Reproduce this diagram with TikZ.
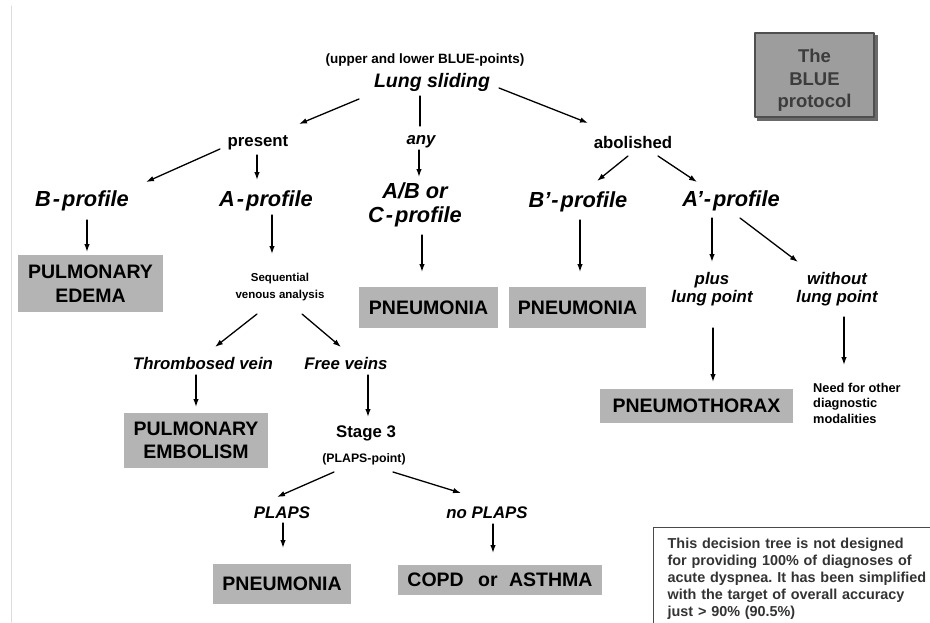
\documentclass[tikz,border=0pt]{standalone}
\usepackage{fontspec}
\setmainfont{Liberation Sans}
\usetikzlibrary{arrows.meta,calc,positioning}
\definecolor{DxGray}{HTML}{B4B4B4}
\definecolor{BlueFill}{HTML}{9D9D9D}
\definecolor{BlueEdge}{HTML}{4F4F4F}
\definecolor{BlueShadow}{HTML}{6A6A6A}
\definecolor{BlueText}{HTML}{3C3C3C}
\definecolor{NoteText}{HTML}{333333}
\definecolor{NoteEdge}{HTML}{4A4A4A}
\definecolor{MarginGray}{HTML}{DCDCDC}
\frenchspacing

\begin{document}
\begin{tikzpicture}[x=1pt,y=-1pt, line cap=round, line join=round,
  arr/.style={-{Latex[length=8pt,width=5.5pt]}, line width=1.3pt},
  dx/.style={fill=DxGray, inner sep=0pt, align=center, font=\bfseries\fontsize{19.5}{23.5}\selectfont},
  prof/.style={inner sep=0pt, align=center, font=\bfseries\itshape\fontsize{21.8}{24}\selectfont},
  word/.style={inner sep=0pt, align=center, font=\bfseries\fontsize{16.8}{18}\selectfont},
  iword/.style={inner sep=0pt, align=center, font=\bfseries\itshape\fontsize{16.8}{18.3}\selectfont},
  small/.style={inner sep=0pt, align=center, font=\bfseries\fontsize{11.5}{17}\selectfont}]

\useasboundingbox (0,0) rectangle (930,622);
\fill[white] (0,0) rectangle (930,622);

% faint margin line
\draw[MarginGray, line width=1pt] (11,6) -- (11,622);

% top
\node[word, font=\bfseries\fontsize{13.5}{16}\selectfont] (upper) at (425,60) {(upper and lower BLUE-points)};
\node[prof, font=\bfseries\itshape\fontsize{19.5}{22}\selectfont] (lung) at (432,82) {Lung sliding};

% title box
\fill[BlueShadow] (757,35) rectangle (878,121);
\node[fill=BlueFill, draw=BlueEdge, line width=2.4pt, minimum width=119pt, minimum height=84pt, inner sep=0pt] (blue) at (814.5,75) {};
\node[font=\bfseries\fontsize{18.5}{22.5}\selectfont, text=BlueText, align=center, inner sep=0pt] (bluetxt) at ($(blue)+(0,5.5)$) {The\\BLUE\\protocol};

% first branches
\node[word] (present) at (258,143) {present};
\node[iword] (any) at (421,142) {any};
\node[word] (abol) at (633,142) {abolished};

\draw[arr] ($(lung)+(-73,17)$) -- ($(present)+(41,-19)$);
\draw[line width=1.3pt] ($(lung)+(-12,14)$) -- ($(any)+(-1,-16)$);
\draw[arr] ($(lung)+(67,6)$) -- ($(abol)+(-45,-19)$);

% profiles
\node[prof] (bprof) at (82,201) {B\kern2pt-\kern2pt profile};
\node[prof] (aprof) at (266,201) {A\kern2pt-\kern2pt profile};
\node[prof] (ab) at (415,205) {A/B or\\C\kern2pt-\kern2pt profile};
\node[prof] (bpp) at (578,202) {B'\kern1pt-\kern2pt profile};
\node[prof] (app) at (731,201) {A'\kern1pt-\kern2pt profile};

\draw[arr] ($(present)+(-38,6)$) -- ($(bprof)+(64,-19)$);
\draw[arr] ($(present)+(-1,12)$) -- ($(aprof)+(-9,-21)$);
\draw[arr] ($(any)+(-2,8)$) -- ($(ab)+(4,-28)$);
\draw[arr] ($(abol)+(-5,14)$) -- ($(bpp)+(19,-21)$);
\draw[arr] ($(abol)+(25,14)$) -- ($(app)+(-34,-19)$);

% diagnoses, upper row
\node[dx, minimum width=145pt, minimum height=57pt] (edema) at (90.5,283.5) {PULMONARY\\EDEMA};
\node[dx, minimum width=139pt, minimum height=41pt] (pneuA) at (428.5,307.5) {PNEUMONIA};
\node[dx, minimum width=137pt, minimum height=41pt] (pneuB) at (577.5,307.5) {PNEUMONIA};
\node[small] (seq) at (280,287) {Sequential\\venous analysis};
\node[iword] (plus) at (712,289) {plus\\lung point};
\node[iword] (without) at (837,289) {without\\lung point};

\draw[arr] ($(bprof)+(5,19)$) -- ($(edema)+(-3.5,-31.5)$);
\draw[arr] ($(aprof)+(6,14)$) -- ($(seq)+(-8,-33)$);
\draw[arr] ($(ab)+(7,30)$) -- ($(pneuA)+(-6.5,-35.5)$);
\draw[arr] ($(bpp)+(2,18)$) -- ($(pneuB)+(2.5,-35.5)$);
\draw[arr] ($(app)+(-19,17)$) -- ($(plus)+(0,-27)$);
\draw[arr] ($(app)+(9,17)$) -- ($(without)+(-39,-27)$);

% pneumothorax side
\node[dx, minimum width=193pt, minimum height=34pt] (ptx) at (696.5,406) {PNEUMOTHORAX};
\node[small, anchor=west, align=left, font=\bfseries\fontsize{12.8}{15.5}\selectfont] (need) at (813,403) {Need for other\\diagnostic\\modalities};

\draw[arr] ($(plus)+(1,39)$) -- ($(ptx)+(16.5,-24)$);
\draw[arr] ($(without)+(7,28)$) -- ($(need.west)+(31,-38)$);

% venous analysis
\node[iword] (thromb) at (203,363) {Thrombosed vein};
\node[iword] (free) at (346,363) {Free veins};
\node[dx, minimum width=144pt, minimum height=55pt] (embol) at (196,440.5) {PULMONARY\\EMBOLISM};
\node[word] (stage) at (366,433) {Stage 3};
\node[small, font=\bfseries\fontsize{12.3}{14}\selectfont] (plapspt) at (364,459) {(PLAPS-point)};

\draw[arr] ($(seq)+(-23,27)$) -- ($(thromb)+(12,-16)$);
\draw[arr] ($(seq)+(22,27)$) -- ($(free)+(-5,-16)$);
\draw[arr] ($(thromb)+(-7,12)$) -- ($(embol)+(0,-33.5)$);
\draw[arr] ($(free)+(22,12)$) -- ($(stage)+(2,-16)$);

% PLAPS
\node[iword] (plaps) at (282,513) {PLAPS};
\node[iword] (noplaps) at (487,513) {no PLAPS};
\node[dx, minimum width=138pt, minimum height=40pt] (pneuC) at (282,584) {PNEUMONIA};
\node[dx, minimum width=204pt, minimum height=30pt] (copd) at (500,580) {COPD\hspace{9pt} or\hspace{6pt} ASTHMA};

\draw[arr] ($(plapspt)+(-30,13)$) -- ($(plaps)+(-5,-16)$);
\draw[arr] ($(plapspt)+(29,13)$) -- ($(noplaps)+(-26,-20)$);
\draw[arr] ($(plaps)+(1,10)$) -- ($(pneuC)+(1,-36)$);
\draw[arr] ($(noplaps)+(6,11)$) -- ($(copd)+(-7,-27)$);

% note box
\node[anchor=north west, draw=NoteEdge, line width=1.3pt, text=NoteText, align=left, inner xsep=14pt, inner ysep=10pt,
      text width=280pt, font=\bfseries\fontsize{14.4}{17.2}\selectfont] (note) at (653,527)
{This decision tree is not designed\\for providing 100\% of diagnoses of\\acute dyspnea. It has been simplified\\with the target of overall accuracy\\just > 90\% (90.5\%)};

\end{tikzpicture}
\end{document}
